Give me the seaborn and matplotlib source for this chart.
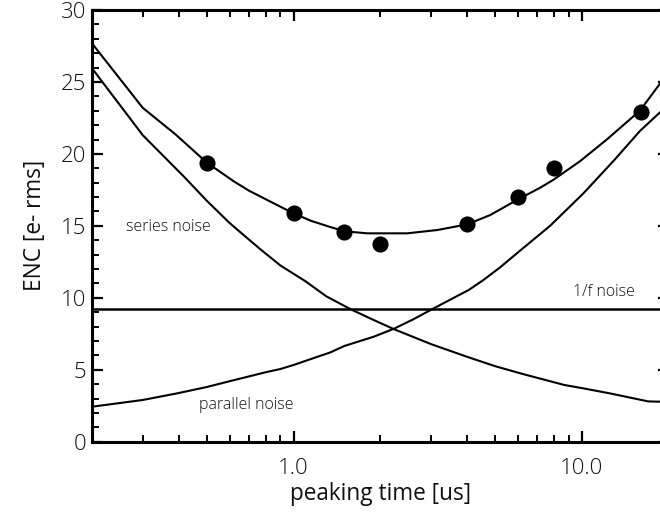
import matplotlib
matplotlib.use("Agg")
import matplotlib.pyplot as plt
from matplotlib.ticker import FixedLocator, FixedFormatter, MultipleLocator, NullFormatter
import pandas as pd
import seaborn as sns

# Noise components vs. peaking time
series_t = [0.2, 0.3, 0.42, 0.5, 0.6, 0.7, 0.77, 0.9, 1.1, 1.3, 1.58, 1.9, 2.23, 3.0,
            4.0, 5.0, 6.2, 8.7, 10.1, 12.5, 17.0, 18.7]
series_enc = [25.95, 21.3, 18.35, 16.75, 15.2, 14.05, 13.35, 12.25, 11.15, 10.1, 9.2, 8.45,
              7.82, 6.78, 5.9, 5.25, 4.72, 3.94, 3.71, 3.36, 2.8, 2.78]

parallel_t = [0.2, 0.3, 0.395, 0.5, 0.605, 0.81, 0.9, 1.0, 1.21, 1.34, 1.5, 1.9, 2.23,
              2.6, 3.02, 4.05, 4.56, 5.21, 5.96, 7.76, 10.13, 13.0, 15.92, 18.7]
parallel_enc = [2.43, 2.9, 3.36, 3.8, 4.22, 4.85, 5.05, 5.33, 5.9, 6.2, 6.65, 7.3, 7.85,
                8.5, 9.2, 10.54, 11.24, 12.12, 13.1, 15.0, 17.26, 19.6, 21.6, 22.9]

total_t = [0.2, 0.3, 0.39, 0.5, 0.62, 0.7, 0.81, 1.0, 1.15, 1.34, 1.51, 1.8, 2.48, 3.15,
           4.0, 4.81, 5.96, 7.17, 7.97, 9.87, 12.21, 15.9, 18.7]
total_enc = [27.68, 23.2, 21.35, 19.4, 18.1, 17.45, 16.8, 15.87, 15.35, 14.92, 14.62,
             14.48, 14.48, 14.71, 15.1, 15.75, 16.8, 17.65, 18.2, 19.5, 21.0, 23.0, 24.9]

flicker_enc = 9.2

meas_t = [0.5, 1.0, 1.5, 2.0, 4.0, 6.0, 8.0, 16.0]
meas_enc = [19.4, 15.9, 14.55, 13.75, 15.1, 17.0, 19.05, 22.9]

x_major = [1.0, 10.0]
x_major_labels = ["1.0", "10.0"]
y_major = [0, 5, 10, 15, 20, 25, 30]

sns.set_style("ticks")
plt.rcParams["font.family"] = ["Open Sans", "DejaVu Sans"]
plt.rcParams["font.weight"] = "light"
ink = "#111111"

fig = plt.figure(figsize=(6.6, 5.12), dpi=100)
ax = fig.add_axes([92 / 660, 1 - 441.7 / 512, (668.6 - 92) / 660, (441.7 - 10) / 512])

curves = pd.concat([
    pd.DataFrame({"t": series_t, "enc": series_enc, "part": "series"}),
    pd.DataFrame({"t": parallel_t, "enc": parallel_enc, "part": "parallel"}),
    pd.DataFrame({"t": total_t, "enc": total_enc, "part": "total"}),
])
sns.lineplot(data=curves, x="t", y="enc", units="part", estimator=None, sort=True,
             color="black", lw=1.5, ax=ax)
ax.axhline(flicker_enc, color="black", lw=1.8)

meas = pd.DataFrame({"t": meas_t, "enc": meas_enc})
sns.scatterplot(data=meas, x="t", y="enc", s=135, color="black", edgecolor="black",
                linewidth=0, ax=ax, zorder=5)

ax.set_xscale("log")
ax.set_xlim(0.2, 20)
ax.set_ylim(0, 30)

ax.xaxis.set_major_locator(FixedLocator(x_major))
ax.xaxis.set_major_formatter(FixedFormatter(x_major_labels))
ax.xaxis.set_minor_locator(FixedLocator([0.3, 0.4, 0.5, 0.6, 0.7, 0.8, 0.9,
                                         2, 3, 4, 5, 6, 7, 8, 9]))
ax.xaxis.set_minor_formatter(NullFormatter())
ax.yaxis.set_major_locator(FixedLocator(y_major))
ax.yaxis.set_minor_locator(MultipleLocator(1))

ax.tick_params(which="both", direction="in", top=True, right=True,
               colors="black", labelcolor=ink, labelsize=16)
ax.tick_params(which="major", length=7.6, width=1.6)
ax.tick_params(which="minor", length=4.7, width=1.4)
ax.tick_params(axis="x", which="major", pad=12)
ax.tick_params(axis="y", which="major", pad=4)
for sp in ax.spines.values():
    sp.set_linewidth(2.2)
    sp.set_color("black")

ax.set_xlabel("peaking time [us]", fontsize=16.3, color=ink, labelpad=2)
ax.set_ylabel("ENC [e- rms]", fontsize=16.3, color=ink, labelpad=10)

ax.text(0.262, 14.95, "series noise", fontsize=11.5, color=ink, va="center")
ax.text(0.469, 2.55, "parallel noise", fontsize=11.5, color=ink, va="center")
ax.text(9.33, 10.4, "1/f noise", fontsize=11.5, color=ink, va="center")

fig.savefig("out.png", dpi=100)
